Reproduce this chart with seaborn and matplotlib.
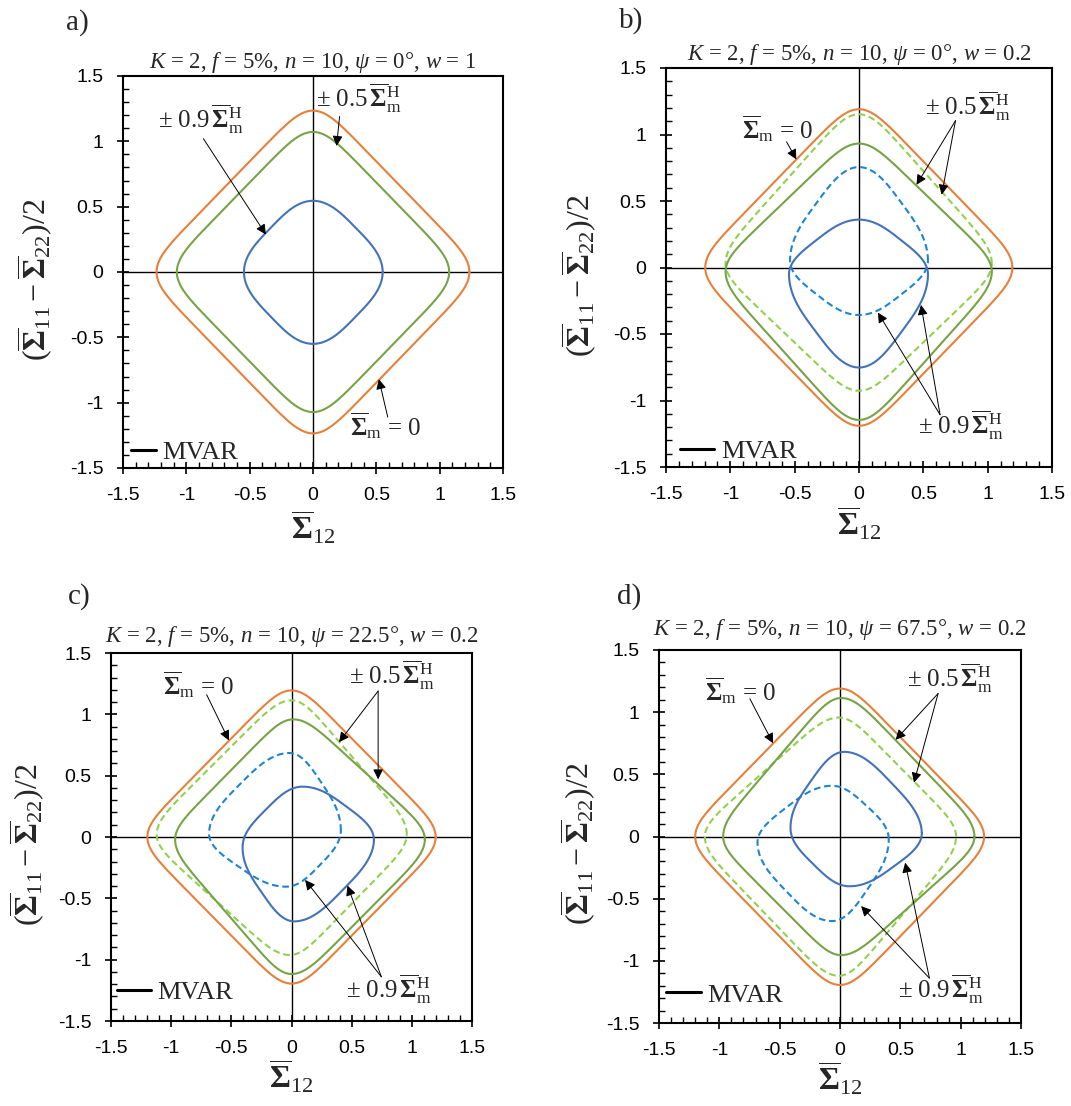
import numpy as np
import pandas as pd
import matplotlib
matplotlib.use("Agg")
import matplotlib.pyplot as plt
import matplotlib.transforms as mtransforms
from matplotlib.lines import Line2D
from matplotlib.ticker import MultipleLocator, FixedLocator
from matplotlib.font_manager import FontProperties
import seaborn as sns

sns.set_style("ticks")
plt.rcParams.update({
    "font.family": ["Liberation Sans", "DejaVu Sans"],
    "mathtext.fontset": "custom",
    "mathtext.rm": "Liberation Serif",
    "mathtext.it": "Liberation Serif:italic",
    "mathtext.bf": "Liberation Serif:bold",
    "mathtext.sf": "Liberation Serif",
    "axes.linewidth": 1.5,
    "axes.edgecolor": "black",
    "xtick.color": "black",
    "ytick.color": "black",
})

# ---------------------------------------------------------------- data
panel_letters = ["a)", "b)", "c)", "d)"]
psi_deg = ["0", "0", "22.5", "67.5"]
w_vals = ["1", "0.2", "0.2", "0.2"]
tick_values = [-1.5, -1.0, -0.5, 0.0, 0.5, 1.0, 1.5]
tick_labels = ["-1.5", "-1", "-0.5", "0", "0.5", "1", "1.5"]

# Apex points (right, top, left, bottom) of each MVAR yield surface
# in the (Sigma_12, (Sigma_11 - Sigma_22)/2) plane.
# panel a: psi = 0, w = 1  (+/- mean stress give identical surfaces)
a_sm0 = [(1.235, 0.0), (0.0, 1.235), (-1.235, 0.0), (0.0, -1.235)]
a_h05 = [(1.075, 0.0), (0.0, 1.072), (-1.075, 0.0), (0.0, -1.072)]
a_h09 = [(0.550, 0.0), (0.0, 0.545), (-0.545, 0.0), (0.0, -0.550)]

# panel b: psi = 0, w = 0.2
b_sm0 = [(1.192, 0.0), (0.0, 1.190), (-1.195, 0.0), (0.0, -1.190)]
b_h05_pos = [(1.032, -0.03), (0.0, 0.932), (-1.037, -0.03), (0.0, -1.146)]
b_h05_neg = [(1.032, 0.03), (0.0, 1.152), (-1.037, 0.03), (0.0, -0.927)]
b_h09_pos = [(0.536, -0.05), (0.0, 0.360), (-0.544, -0.05), (0.0, -0.752)]
b_h09_neg = [(0.536, 0.05), (0.0, 0.755), (-0.536, 0.05), (0.0, -0.357)]

# panel c: psi = 22.5, w = 0.2
c_sm0 = [(1.198, 0.0), (0.0, 1.195), (-1.198, 0.0), (0.0, -1.195)]
c_h05_pos = [(1.108, -0.02), (0.014, 0.959), (-0.967, -0.02), (0.0, -1.117)]
c_h05_neg = [(0.958, 0.02), (0.0, 1.114), (-1.120, 0.02), (-0.014, -0.962)]
c_h09_pos = [(0.685, -0.03), (0.08, 0.410), (-0.406, -0.07), (0.03, -0.688)]
c_h09_neg = [(0.410, 0.05), (-0.02, 0.685), (-0.685, 0.03), (-0.04, -0.405)]

# panel d: psi = 67.5, w = 0.2
d_sm0 = [(1.194, 0.0), (0.0, 1.190), (-1.200, 0.0), (0.0, -1.194)]
d_h05_pos = [(1.114, 0.0), (0.01, 1.114), (-0.968, 0.0), (0.01, -0.954)]
d_h05_neg = [(0.962, 0.0), (-0.01, 0.957), (-1.120, 0.0), (-0.01, -1.120)]
d_h09_pos = [(0.678, 0.03), (0.04, 0.681), (-0.410, 0.06), (0.07, -0.400)]
d_h09_neg = [(0.404, -0.02), (-0.074, 0.408), (-0.684, -0.05), (-0.06, -0.680)]

panel_curves = [
    [("sm0", "pos", a_sm0), ("h05", "pos", a_h05), ("h09", "pos", a_h09)],
    [("sm0", "pos", b_sm0), ("h05", "neg", b_h05_neg), ("h05", "pos", b_h05_pos),
     ("h09", "neg", b_h09_neg), ("h09", "pos", b_h09_pos)],
    [("sm0", "pos", c_sm0), ("h05", "neg", c_h05_neg), ("h05", "pos", c_h05_pos),
     ("h09", "neg", c_h09_neg), ("h09", "pos", c_h09_pos)],
    [("sm0", "pos", d_sm0), ("h05", "neg", d_h05_neg), ("h05", "pos", d_h05_pos),
     ("h09", "neg", d_h09_neg), ("h09", "pos", d_h09_pos)],
]

# corner sharpness of each surface family
corner_exp = {"sm0": 8.0, "h05": 7.0, "h09": 3.3}

# ---------------------------------------------------------------- styles
line_style = {
    ("sm0", "pos"): dict(color="#E6803A", linestyle="-"),
    ("h05", "pos"): dict(color="#77A347", linestyle="-"),
    ("h05", "neg"): dict(color="#92D050", linestyle=(0, (3.2, 1.8))),
    ("h09", "pos"): dict(color="#4472B8", linestyle="-"),
    ("h09", "neg"): dict(color="#1F85D3", linestyle=(0, (3.2, 1.8))),
}

W, H = 1071, 1106
# axes boxes in pixels: left, top, right, bottom
axes_px = [(123, 76, 503, 468), (666, 68, 1052, 467),
           (111, 653, 472, 1021), (659, 650, 1021, 1023)]
title_gap_px = [8, 8, 11, 15]
letter_px = [(66, 30), (619, 28), (68, 604), (617, 604)]
ylabel_x = [-0.179, -0.174, -0.177, -0.168]
xlabel_y = [-0.105, -0.095, -0.10, -0.10]
legend_anchor = [(0.02, 0.01), (0.036, 0.01), (0.016, 0.045), (0.02, 0.044)]
legend_handlelen = [0.95, 1.3, 1.3, 1.3]

SIG = r"\overline{\mathbf{\Sigma}}"
LAB_SM0 = r"$" + SIG + r"_{\mathrm{m}}$ = 0"
LAB_05 = r"$\pm\ 0.5\," + SIG + r"_{\mathrm{m}}^{\mathrm{H}}$"
LAB_09 = r"$\pm\ 0.9\," + SIG + r"_{\mathrm{m}}^{\mathrm{H}}$"

# label text position, arrow tail, arrow tips
annotations = [
    [(LAB_09, (-1.22, 1.10), (-0.865, 1.02), [(-0.372, 0.287)]),
     (LAB_05, (0.02, 1.26), (0.21, 1.19), [(0.186, 0.965)]),
     (LAB_SM0, (0.29, -1.25), (0.59, -1.11), [(0.52, -0.82)])],
    [(LAB_SM0, (-0.91, 0.97), (-0.563, 0.945), [(-0.487, 0.813)]),
     (LAB_05, (0.51, 1.144), (0.75, 1.104), [(0.447, 0.622), (0.643, 0.548)]),
     (LAB_09, (0.455, -1.252), (0.63, -1.107), [(0.147, -0.339), (0.482, -0.281)])],
    [(LAB_SM0, (-1.07, 1.16), (-0.705, 1.16), [(-0.52, 0.787)]),
     (LAB_05, (0.48, 1.245), (0.72, 1.19), [(0.395, 0.773), (0.72, 0.47)]),
     (LAB_09, (0.457, -1.31), (0.747, -1.14), [(0.113, -0.35), (0.465, -0.396)])],
    [(LAB_SM0, (-1.12, 1.095), (-0.747, 1.108), [(-0.555, 0.75)]),
     (LAB_05, (0.555, 1.205), (0.813, 1.15), [(0.461, 0.778), (0.613, 0.433)]),
     (LAB_09, (0.484, -1.30), (0.741, -1.139), [(0.54, -0.21), (0.175, -0.56)])],
]


def surface_outline(apexes, p, n=200):
    """Closed rounded-diamond outline through the four apex points."""
    pts_ap = [np.asarray(v, float) for v in apexes]
    R, T, L, B = pts_ap
    A = np.array([[L[0] - R[0], -(B[0] - T[0])], [L[1] - R[1], -(B[1] - T[1])]])
    s, _ = np.linalg.solve(A, T - R)
    c = R + s * (L - R)
    vec = [v - c for v in pts_ap]
    th = np.linspace(0.0, np.pi / 2, n)
    cs, sn = np.cos(th), np.sin(th)
    r = (2.0 / (np.abs(cs + sn) ** p + np.abs(cs - sn) ** p)) ** (1.0 / p)
    segs = []
    for k in range(4):
        e1, e2 = vec[k], vec[(k + 1) % 4]
        seg = c + (r * cs)[:, None] * e1 + (r * sn)[:, None] * e2
        segs.append(seg if k == 0 else seg[1:])
    out = np.vstack(segs)
    return pd.DataFrame({"s12": out[:, 0], "sdiff": out[:, 1]})


serif = "Liberation Serif"
fig = plt.figure(figsize=(W / 100, H / 100), dpi=100)

for i in range(4):
    l, t, r_, b = axes_px[i]
    ax = fig.add_axes([l / W, 1 - b / H, (r_ - l) / W, (b - t) / H])

    ax.axhline(0, color="black", lw=1.0, zorder=1)
    ax.axvline(0, color="black", lw=1.0, zorder=1)

    for fam, sign, apexes in panel_curves[i]:
        df = surface_outline(apexes, corner_exp[fam])
        st = line_style[(fam, sign)]
        sns.lineplot(data=df, x="s12", y="sdiff", sort=False, estimator=None,
                     ax=ax, color=st["color"], linestyle=st["linestyle"],
                     linewidth=1.5, zorder=3)

    ax.set_xlim(-1.5, 1.5)
    ax.set_ylim(-1.5, 1.5)
    ax.xaxis.set_major_locator(FixedLocator(tick_values))
    ax.yaxis.set_major_locator(FixedLocator(tick_values))
    ax.set_xticklabels(tick_labels)
    ax.set_yticklabels(tick_labels)
    ax.xaxis.set_minor_locator(MultipleLocator(0.1))
    ax.yaxis.set_minor_locator(MultipleLocator(0.1))
    ax.tick_params(which="major", direction="inout", length=8, width=1.2,
                   labelsize=14, pad=10)
    ax.tick_params(which="minor", direction="in", length=4, width=1.0)
    for sp in ax.spines.values():
        sp.set_visible(True)
        sp.set_linewidth(1.5)

    ax.set_xlabel(r"$" + SIG + r"_{12}$", fontsize=23)
    ax.xaxis.set_label_coords(0.5, xlabel_y[i])
    ax.set_ylabel(r"$(" + SIG + r"_{11}-" + SIG + r"_{22})/2$", fontsize=23)
    ax.yaxis.set_label_coords(ylabel_x[i], 0.48)

    title = (r"$K$ = 2, $f$ = 5%, $n$ = 10, $\psi$ = $\mathit{" + psi_deg[i]
             + r"°}$, $w$ = " + w_vals[i])
    trans = mtransforms.offset_copy(ax.transAxes, fig=fig, x=0,
                                    y=title_gap_px[i] * 72 / 100, units="points")
    ax.text(0.5, 1.0, title, transform=trans, ha="center", va="baseline",
            fontsize=16.5, family=serif)

    lx, ly = letter_px[i]
    fig.text(lx / W, 1 - ly / H, panel_letters[i], fontsize=21, family=serif,
             ha="left", va="baseline")

    for label, txy, tail, tips in annotations[i]:
        ax.text(txy[0], txy[1], label, fontsize=18, family=serif,
                ha="left", va="baseline", zorder=5)
        for tip in tips:
            ax.annotate("", xy=tip, xytext=tail,
                        arrowprops=dict(arrowstyle="-|>", color="black", lw=0.7,
                                        mutation_scale=15, shrinkA=0, shrinkB=0),
                        zorder=6)

    leg = ax.legend(handles=[Line2D([], [], color="black", lw=2.2)], labels=["MVAR"],
                    loc="lower left", bbox_to_anchor=legend_anchor[i],
                    frameon=False, prop=FontProperties(family=serif, size=19),
                    handlelength=legend_handlelen[i], handletextpad=0.25,
                    borderpad=0, borderaxespad=0)

fig.savefig("out.png", dpi=100)
